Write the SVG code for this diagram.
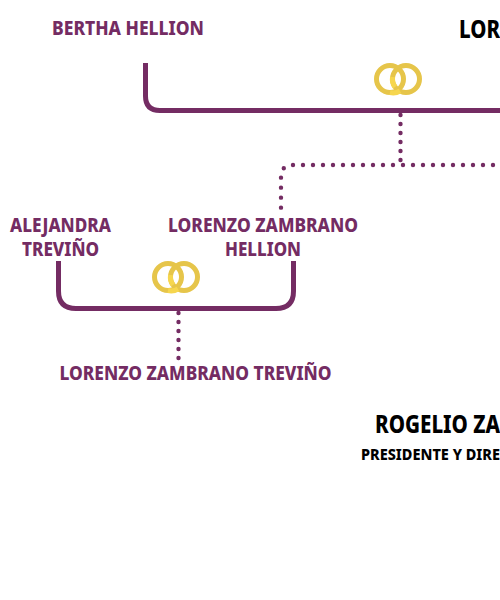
<svg xmlns="http://www.w3.org/2000/svg" width="500" height="600" viewBox="0 0 500 600">
<style>
text{font-family:"Noto Sans","Open Sans","Liberation Sans",sans-serif;font-weight:800}
.p{fill:#742c63;font-size:19.5px}
.k{fill:#000}
.line{fill:none;stroke:#742c63;stroke-width:5}
.dot{fill:none;stroke:#742c63;stroke-width:4.4;stroke-linecap:round}
.r1{fill:none;stroke:#e6c54a;stroke-width:5}
.r2{fill:none;stroke:#f6d64e;stroke-width:5}
</style>
<defs>
<g id="rings"><circle class="r1" cx="-8" cy="0" r="13.500"/><circle class="r1" cx="8" cy="0" r="13.500"/><path class="r2" d="M-5.500 -2A13.500 13.500 0 0 0 -3 8"/><path class="r2" d="M-8 13.500A13.500 13.500 0 0 0 2 12"/></g>
</defs>
<g id="connectors">
<path class="line" d="M145.500 63V96Q145.500 110.500 160 110.500H500"/>
<path class="line" d="M58.500 261V291Q58.500 308.500 76 308.500H276Q293.500 308.500 293.500 291V261"/>
<path class="dot" stroke-dasharray="0 9" d="M400.500 115V162"/>
<path class="dot" stroke-dasharray="0 10" d="M493 165H293Q281 165 281 177V213"/>
<path class="dot" stroke-dasharray="0 9" d="M178.500 313V360"/>
</g>
<g id="node-bertha"><text class="p" x="128" y="35" text-anchor="middle" textLength="152" lengthAdjust="spacingAndGlyphs">BERTHA HELLION</text></g>
<g id="node-lor"><text class="k" x="459" y="38" font-size="24" textLength="41" lengthAdjust="spacingAndGlyphs">LOR</text></g>
<g id="rings-top"><use href="#rings" x="398" y="79"/></g>
<g id="node-alejandra"><text class="p" x="60.500" y="232" text-anchor="middle" textLength="101" lengthAdjust="spacingAndGlyphs">ALEJANDRA</text><text class="p" x="60.500" y="256" text-anchor="middle" textLength="77" lengthAdjust="spacingAndGlyphs">TREVIÑO</text></g>
<g id="node-lorenzo-h"><text class="p" x="263" y="232" text-anchor="middle" textLength="190" lengthAdjust="spacingAndGlyphs">LORENZO ZAMBRANO</text><text class="p" x="263" y="256" text-anchor="middle" textLength="76" lengthAdjust="spacingAndGlyphs">HELLION</text></g>
<g id="rings-bottom"><use href="#rings" x="176" y="277"/></g>
<g id="node-lorenzo-t"><text class="p" x="195.500" y="380" text-anchor="middle" textLength="272" lengthAdjust="spacingAndGlyphs">LORENZO ZAMBRANO TREVIÑO</text></g>
<g id="node-rogelio"><text class="k" x="375" y="433" font-size="24" textLength="125" lengthAdjust="spacingAndGlyphs">ROGELIO ZA</text><text class="k" x="361" y="460" font-size="15" textLength="139" lengthAdjust="spacingAndGlyphs">PRESIDENTE Y DIRE</text></g>
</svg>
